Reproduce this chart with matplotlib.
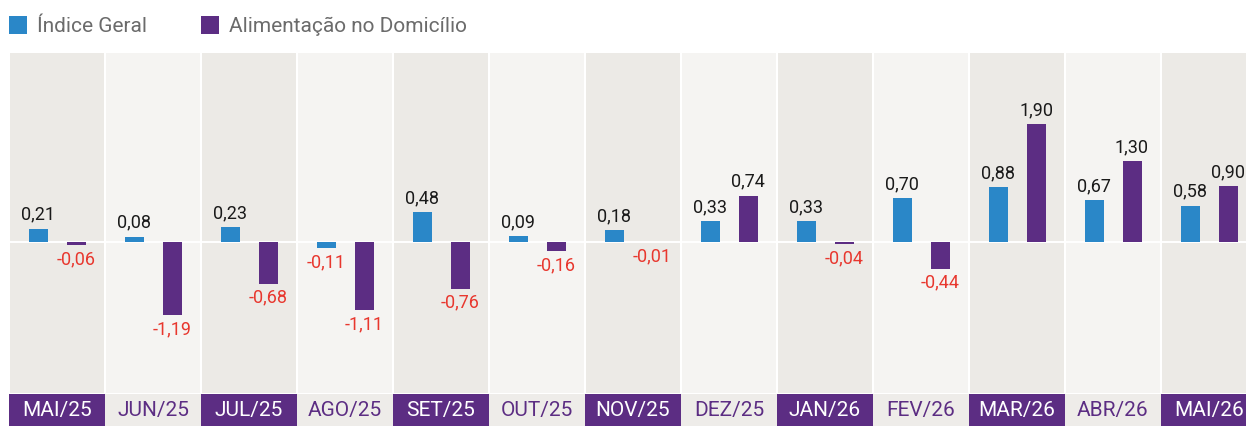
import matplotlib
matplotlib.use("Agg")
import matplotlib.pyplot as plt
from matplotlib.patches import Rectangle

months = ["MAI/25", "JUN/25", "JUL/25", "AGO/25", "SET/25", "OUT/25", "NOV/25",
          "DEZ/25", "JAN/26", "FEV/26", "MAR/26", "ABR/26", "MAI/26"]
indice_geral = [0.21, 0.08, 0.23, -0.11, 0.48, 0.09, 0.18, 0.33, 0.33, 0.70, 0.88, 0.67, 0.58]
alimentacao = [-0.06, -1.19, -0.68, -1.11, -0.76, -0.16, -0.01, 0.74, -0.04, -0.44, 1.90, 1.30, 0.90]
series_names = ["Índice Geral", "Alimentação no Domicílio"]

BLUE = "#2A87C8"
PURPLE = "#5C2D83"
DARK_BG = "#ECEAE6"
LIGHT_BG = "#F5F4F2"
RED = "#E8372E"
FONT = "Roboto"

W, H = 1246, 426
fig = plt.figure(figsize=(W / 100, H / 100), dpi=100)
fig.patch.set_facecolor("white")

x0 = 9
colw = 96.0
n = len(months)
xmax = -0.5 + (W - x0) / colw

# main axes
ax = fig.add_axes([x0 / W, (H - 393) / H, (W - x0) / W, (393 - 53) / H])
ax.set_xlim(-0.5, xmax)
ylo, yhi = -2.45, 3.05
ax.set_ylim(ylo, yhi)
ax.axis("off")

gap = 1.0 / colw
for i in range(n):
    c = DARK_BG if i % 2 == 0 else LIGHT_BG
    ax.add_patch(Rectangle((i - 0.5 + gap, ylo), 1 - 2 * gap, yhi - ylo,
                           facecolor=c, edgecolor="none", zorder=0))
ax.axhline(0, color="white", lw=1.4, zorder=1)

bw = 19 / colw
off = 19 / colw
xs = list(range(n))
ax.bar([x - off for x in xs], indice_geral, width=bw, color=BLUE, zorder=2)
ax.bar([x + off for x in xs], alimentacao, width=bw, color=PURPLE, zorder=2)

pad = 5 / 62.0
def lab(x, v):
    s = f"{v:.2f}".replace(".", ",")
    if v >= 0:
        ax.text(x, v + pad, s, ha="center", va="bottom",
                fontsize=13, family=FONT, color="#1a1a1a", zorder=4)
    else:
        ax.text(x, v - pad, s, ha="center", va="top",
                fontsize=13, family=FONT, color=RED, zorder=4)

for i in range(n):
    lab(i - off, indice_geral[i])
    lab(i + off, alimentacao[i])

# label band
bx = fig.add_axes([x0 / W, 0, (W - x0) / W, (426 - 394) / H])
bx.set_xlim(-0.5, xmax)
bx.set_ylim(0, 1)
bx.axis("off")
for i, m in enumerate(months):
    if i % 2 == 0:
        bx.add_patch(Rectangle((i - 0.5, 0), 1, 1, facecolor=PURPLE, edgecolor="none"))
        tc = "white"
    else:
        bx.add_patch(Rectangle((i - 0.5, 0), 1, 1, facecolor="#EEECE9", edgecolor="none"))
        tc = PURPLE
    bx.text(i, 0.47, m, ha="center", va="center", fontsize=15, family=FONT, color=tc)

# legend
def leg(xpx, color, text):
    fig.patches.append(Rectangle((xpx / W, (H - 34) / H), 18 / W, 18 / H,
                                 transform=fig.transFigure, facecolor=color,
                                 edgecolor="none"))
    fig.text((xpx + 28) / W, (H - 26) / H, text, ha="left", va="center",
             fontsize=15, family=FONT, color="#6b6b6b")

leg(9, BLUE, series_names[0])
leg(201, PURPLE, series_names[1])

fig.savefig("out.png", dpi=100, facecolor="white")
